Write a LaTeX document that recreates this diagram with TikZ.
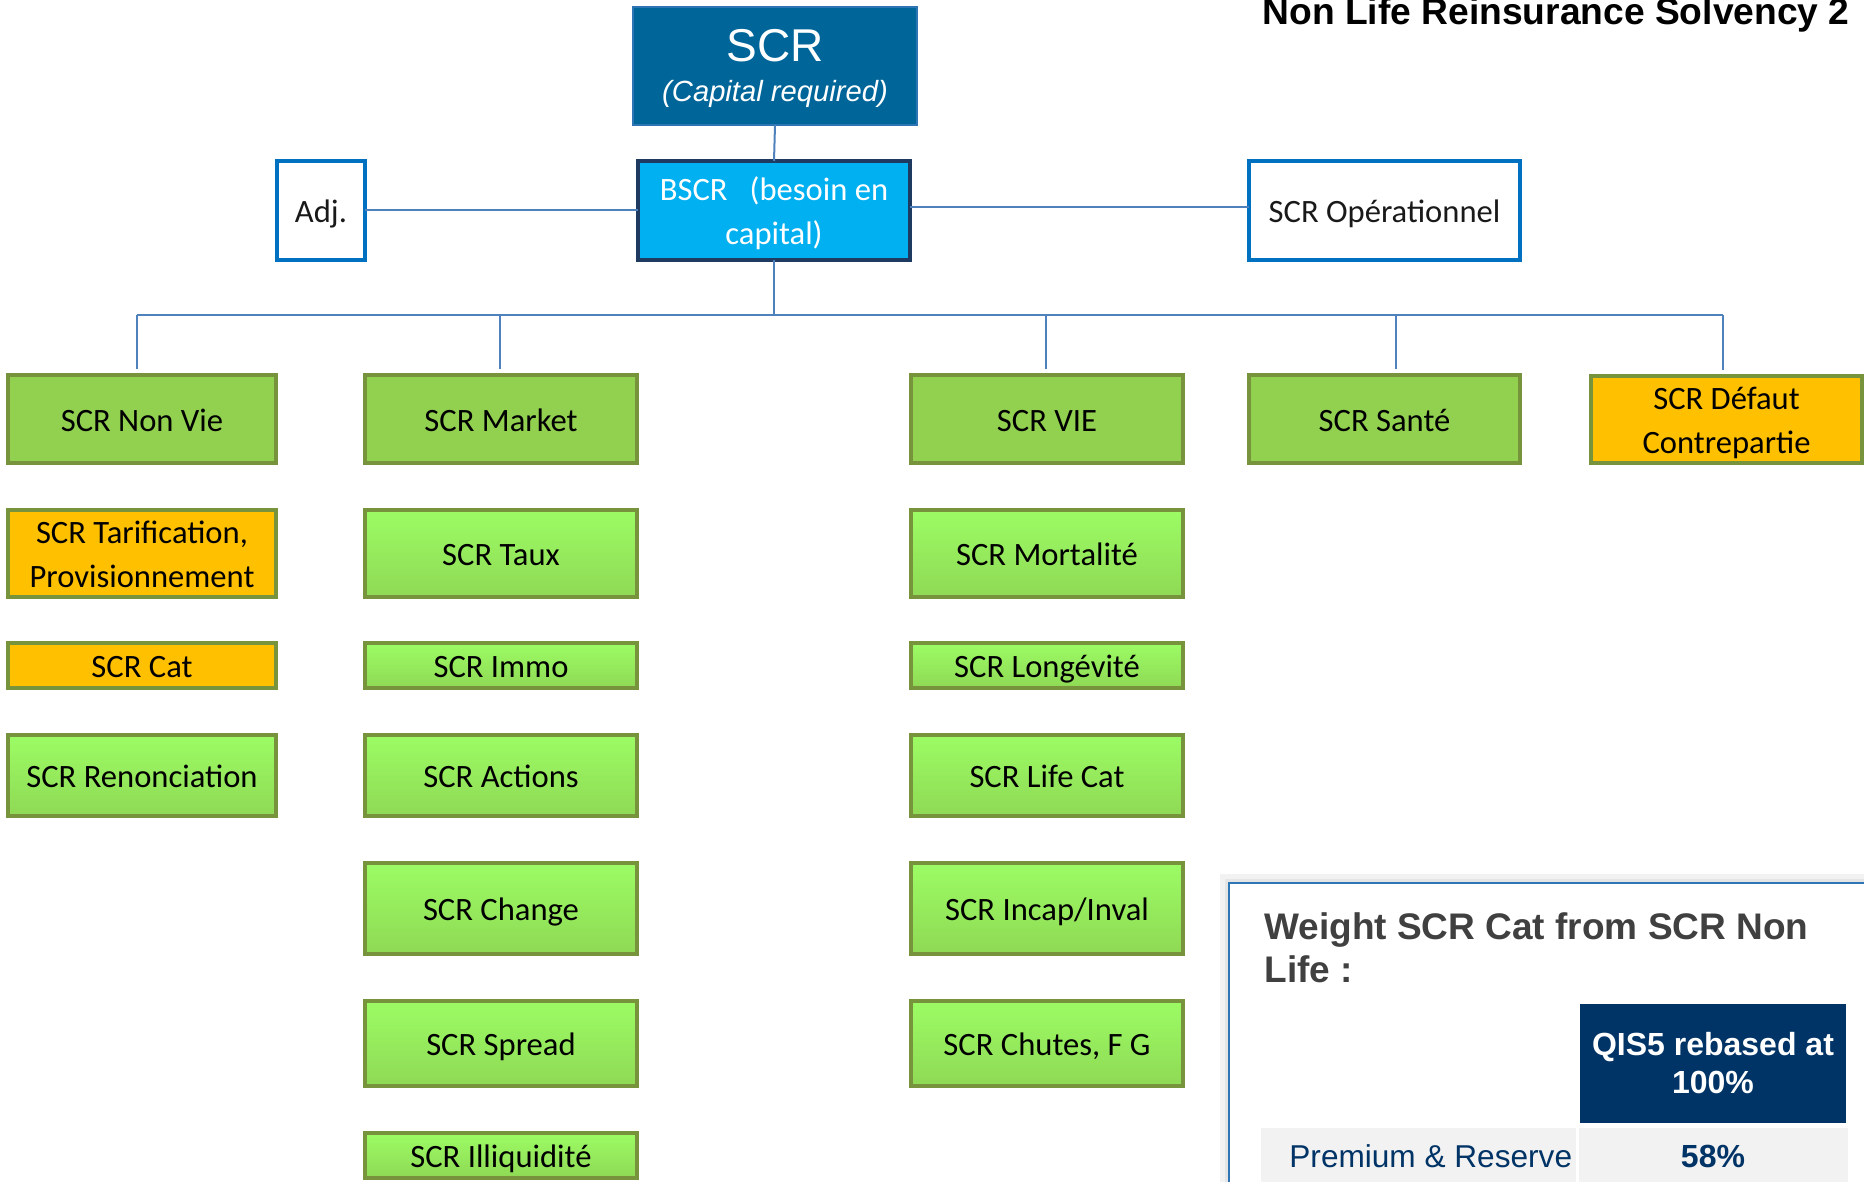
\documentclass[tikz,border=0pt]{standalone}
\usepackage{fontspec}
\setmainfont{Carlito}
\newfontfamily\arial{Liberation Sans}
\definecolor{scrblue}{HTML}{00669A}
\definecolor{scrline}{HTML}{2E75B6}
\definecolor{bscrfill}{HTML}{00B0F0}
\definecolor{bscrdraw}{HTML}{1F3A60}
\definecolor{blueborder}{HTML}{0070C0}
\definecolor{greenA}{HTML}{92D050}
\definecolor{greenTop}{HTML}{9CFC64}
\definecolor{greenBot}{HTML}{8FD955}
\definecolor{olive}{HTML}{77933C}
\definecolor{orangeA}{HTML}{FFC000}
\definecolor{connc}{HTML}{4F81BD}
\definecolor{navy}{HTML}{003366}
\definecolor{headgray}{HTML}{404040}
\definecolor{cellgray}{HTML}{F2F2F2}
\definecolor{paneline}{HTML}{2E75B6}
\newcommand\boxfont{\fontsize{16.3}{22}\selectfont}
\newcommand\bx[7]{\node[#6, minimum width={(#4-#2)*0.5pt-2pt}, minimum height={(#5-#3)*0.5pt-2pt}] (#1) at ({(#2+#4)/2},{(#3+#5)/2}) {#7};}
\tikzset{
  base box/.style={rectangle, inner sep=0pt, outer sep=0pt, align=center, font=\boxfont, text=black, text height=12pt, text depth=0pt},
  twoline/.style={text height=34pt, text depth=0pt},
  topbox/.style={base box, fill=scrblue, draw=scrline, line width=1pt, text=white},
  bscrbox/.style={base box, fill=bscrfill, draw=bscrdraw, line width=2pt, text=white},
  whitebox/.style={base box, fill=white, draw=blueborder, line width=2pt, text=black!90},
  greenbox/.style={base box, fill=greenA, draw=olive, line width=2pt},
  lgreenbox/.style={base box, top color=greenTop, bottom color=greenBot, draw=olive, line width=2pt},
  orangebox/.style={base box, fill=orangeA, draw=olive, line width=2pt},
  conn/.style={draw=connc, line width=1pt},
}
\begin{document}
\begin{tikzpicture}[x=0.5pt, y=-0.5pt]
\useasboundingbox[fill=white] (0,0) rectangle (1864,1182);

% title
\node[anchor=base west, inner sep=0pt, font=\arial\bfseries\fontsize{18.6}{22}\selectfont] (title) at (1262,25) {Non Life Reinsurance Solvency 2};

% top boxes
\bx{scr}{631}{5}{919}{127}{topbox}{}
\node[inner sep=0pt, text=white, anchor=base, font=\arial\fontsize{23}{26}\selectfont] (scrt) at (775,62) {SCR};
\node[inner sep=0pt, text=white, anchor=base, font=\arial\itshape\fontsize{14.6}{17}\selectfont] (scrs) at (775,102) {(Capital required)};
\bx{bscr}{636}{159}{912}{262}{bscrbox, twoline}{BSCR\ \ \ (besoin en\\capital)}
\bx{adj}{275}{159}{367}{262}{whitebox}{Adj.}
\bx{op}{1247}{159}{1522}{262}{whitebox}{SCR Opérationnel}

% row 1
\bx{nonvie}{6}{373}{278}{465}{greenbox}{SCR Non Vie}
\bx{market}{363}{373}{639}{465}{greenbox}{SCR Market}
\bx{vie}{909}{373}{1185}{465}{greenbox}{SCR VIE}
\bx{sante}{1247}{373}{1522}{465}{greenbox}{SCR Santé}
\bx{defaut}{1589}{374}{1864}{465}{orangebox, twoline}{SCR Défaut\\Contrepartie}

% column 1
\bx{tarif}{6}{508}{278}{599}{orangebox, twoline}{SCR Tarification,\\Provisionnement}
\bx{cat}{6}{641}{278}{690}{orangebox}{SCR Cat}
\bx{renon}{6}{733}{278}{818}{lgreenbox}{SCR Renonciation}

% column 2
\bx{taux}{363}{508}{639}{599}{lgreenbox}{SCR Taux}
\bx{immo}{363}{641}{639}{690}{lgreenbox}{SCR Immo}
\bx{actions}{363}{733}{639}{818}{lgreenbox}{SCR Actions}
\bx{change}{363}{861}{639}{956}{lgreenbox}{SCR Change}
\bx{spread}{363}{999}{639}{1088}{lgreenbox}{SCR Spread}
\bx{illiq}{363}{1131}{639}{1180}{lgreenbox}{SCR Illiquidité}

% column 3
\bx{mort}{909}{508}{1185}{599}{lgreenbox}{SCR Mortalité}
\bx{longev}{909}{641}{1185}{690}{lgreenbox}{SCR Longévité}
\bx{lifecat}{909}{733}{1185}{818}{lgreenbox}{SCR Life Cat}
\bx{incap}{909}{861}{1185}{956}{lgreenbox}{SCR Incap/Inval}
\bx{chutes}{909}{999}{1185}{1088}{lgreenbox}{SCR Chutes, F G}

% connectors
\draw[conn] (scr.south) -- (bscr.north);
\draw[conn] (adj.east) -- (adj.east -| bscr.west);
\draw[conn] ([yshift=1.5pt]bscr.east) -- ([yshift=1.5pt]bscr.east -| op.west);
\coordinate (busL) at (137,315);
\coordinate (busR) at (1723,315);
\coordinate (d2) at (500,315);
\coordinate (d3) at (1046,315);
\coordinate (d4) at (1396,315);
\draw[conn] (bscr.south) -- (bscr.south |- busL);
\draw[conn] (busL) -- (busR);
\draw[conn, shorten >=3pt] (busL) -- (busL |- nonvie.north);
\draw[conn, shorten >=3pt] (d2) -- (d2 |- market.north);
\draw[conn, shorten >=3pt] (d3) -- (d3 |- vie.north);
\draw[conn, shorten >=3pt] (d4) -- (d4 |- sante.north);
\draw[conn, shorten >=3pt] (busR) -- (busR |- defaut.north);

% panel
\fill[black!5] (1220,874) rectangle (1864,1182);
\fill[black!10] (1225,879) rectangle (1864,1182);
\fill[white] (1229,883) rectangle (1864,1182);
\draw[paneline, line width=1pt] (1229,1182) -- (1229,883) -- (1864,883);
\node[anchor=base west, inner sep=0pt, align=left, text=headgray, font=\arial\bfseries\fontsize{18.5}{21.5}\selectfont] (ptitle) at (1264,982) {Weight SCR Cat from SCR Non\\Life :};
\bx{qhead}{1578}{1002}{1848}{1125}{base box, twoline, fill=navy, text=white, draw=none, font=\arial\bfseries\fontsize{16}{19}\selectfont, text height=30pt}{QIS5 rebased at\\100\%}
\node[rectangle, fill=cellgray, inner sep=0pt, minimum width={(1576-1261)*0.5pt}, minimum height={(1190-1128)*0.5pt}] (cellL) at ({(1261+1576)/2},{(1128+1190)/2}) {};
\node[rectangle, fill=cellgray, inner sep=0pt, minimum width={(1848-1579)*0.5pt}, minimum height={(1190-1128)*0.5pt}] (cellR) at ({(1579+1848)/2},{(1128+1190)/2}) {};
\node[anchor=base west, inner sep=0pt, text=navy, font=\arial\fontsize{15.8}{19}\selectfont] (prem) at (1289,1167) {Premium \& Reserve};
\node[anchor=base, inner sep=0pt, text=navy, font=\arial\bfseries\fontsize{16}{19}\selectfont] (pct) at (1713,1167) {58\%};
\end{tikzpicture}
\end{document}
